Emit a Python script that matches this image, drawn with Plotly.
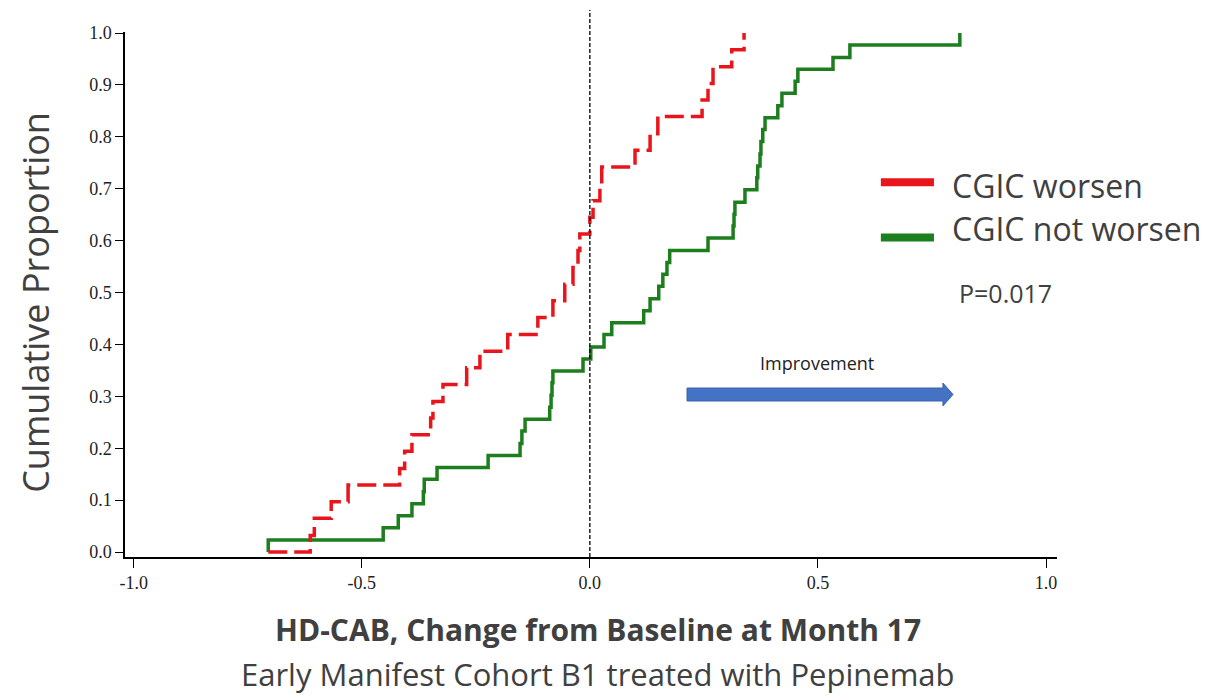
import plotly.graph_objects as go

# Cumulative distribution data (step functions)
worsen_x = [-0.705, -0.613, -0.604, -0.567, -0.530, -0.417, -0.406, -0.390,
            -0.349, -0.344, -0.322, -0.270, -0.241, -0.180, -0.114, -0.081,
            -0.055, -0.037, -0.026, -0.022, 0.000, 0.007, 0.022, 0.026,
            0.099, 0.132, 0.149, 0.246, 0.259, 0.270, 0.311, 0.338]
worsen_y = [0.0, 0.032, 0.065, 0.097, 0.129, 0.161, 0.194, 0.226,
            0.258, 0.290, 0.323, 0.355, 0.387, 0.419, 0.452, 0.484,
            0.516, 0.548, 0.581, 0.613, 0.645, 0.677, 0.710, 0.742,
            0.774, 0.806, 0.839, 0.871, 0.903, 0.935, 0.968, 1.0]

notworsen_x = [-0.705, -0.705, -0.453, -0.420, -0.390, -0.365, -0.363, -0.335,
               -0.223, -0.153, -0.149, -0.142, -0.088, -0.085, -0.083, -0.081,
               -0.015, 0.002, 0.031, 0.048, 0.118, 0.132, 0.151, 0.160,
               0.169, 0.175, 0.259, 0.314, 0.316, 0.318, 0.340, 0.366,
               0.368, 0.373, 0.375, 0.379, 0.384, 0.412, 0.421, 0.450,
               0.456, 0.533, 0.570, 0.811]
notworsen_y = [0.0, 0.023, 0.047, 0.070, 0.093, 0.116, 0.140, 0.163,
               0.186, 0.209, 0.233, 0.256, 0.279, 0.302, 0.326, 0.349,
               0.372, 0.395, 0.419, 0.442, 0.465, 0.488, 0.512, 0.535,
               0.558, 0.581, 0.605, 0.628, 0.651, 0.674, 0.698, 0.721,
               0.744, 0.767, 0.791, 0.814, 0.837, 0.860, 0.884, 0.907,
               0.930, 0.953, 0.977, 1.0]

x_ticks = [-1.0, -0.5, 0.0, 0.5, 1.0]
x_tick_labels = ["-1.0", "-0.5", "0.0", "0.5", "1.0"]
y_ticks = [0.0, 0.1, 0.2, 0.3, 0.4, 0.5, 0.6, 0.7, 0.8, 0.9, 1.0]
y_tick_labels = ["0.0", "0.1", "0.2", "0.3", "0.4", "0.5", "0.6", "0.7", "0.8", "0.9", "1.0"]

series_names = ["CGIC worsen", "CGIC not worsen"]
RED = "#E8161C"
GREEN = "#1C7E1C"
TXT = "#404040"
SANS = "Open Sans"

fig = go.Figure()
fig.add_trace(go.Scatter(x=notworsen_x, y=notworsen_y, mode="lines", line_shape="hv",
                         line=dict(color=GREEN, width=3.5), name=series_names[1],
                         showlegend=False))
fig.add_trace(go.Scatter(x=worsen_x, y=worsen_y, mode="lines", line_shape="hv",
                         line=dict(color=RED, width=3.5, dash="19px,7px"), name=series_names[0],
                         showlegend=False))

shapes = []
# dashed reference line at 0
shapes.append(dict(type="line", xref="x", yref="paper", x0=0, x1=0, y0=0, y1=1.042,
                   line=dict(color="black", width=1.3, dash="4px,2px")))
# legend swatches
shapes.append(dict(type="line", xref="paper", yref="paper", x0=0.811, x1=0.868,
                   y0=0.714, y1=0.714, line=dict(color=RED, width=8)))
shapes.append(dict(type="line", xref="paper", yref="paper", x0=0.811, x1=0.868,
                   y0=0.6086, y1=0.6086, line=dict(color=GREEN, width=8)))
# improvement arrow
ax0, ax1, axh, yc = 0.213, 0.796, 0.774, 0.3035
bh, hh = 0.0125, 0.022
path = (f"M {ax0},{yc-bh} L {axh},{yc-bh} L {axh},{yc-hh} L {ax1},{yc} "
        f"L {axh},{yc+hh} L {axh},{yc+bh} L {ax0},{yc+bh} Z")
shapes.append(dict(type="path", xref="x", yref="y", path=path,
                   fillcolor="#4472C4", line=dict(color="#3A62AA", width=1)))

annotations = [
    dict(text="Cumulative Proportion", xref="paper", yref="paper", x=-0.0955, y=0.486,
         textangle=-90, showarrow=False, xanchor="center", yanchor="middle",
         font=dict(family=SANS, size=36, color=TXT)),
    dict(text="<b>HD-CAB, Change from Baseline at Month 17</b>", xref="paper", yref="paper",
         x=0.5075, y=-0.139, showarrow=False, xanchor="center", yanchor="middle",
         font=dict(family=SANS, size=30, color=TXT)),
    dict(text="Early Manifest Cohort B1 treated with Pepinemab", xref="paper", yref="paper",
         x=0.5075, y=-0.2229, showarrow=False, xanchor="center", yanchor="middle",
         font=dict(family=SANS, size=31, color=TXT)),
    dict(text=series_names[0], xref="paper", yref="paper", x=0.885, y=0.7067,
         showarrow=False, xanchor="left", yanchor="middle",
         font=dict(family=SANS, size=32, color=TXT)),
    dict(text=series_names[1], xref="paper", yref="paper", x=0.885, y=0.6248,
         showarrow=False, xanchor="left", yanchor="middle",
         font=dict(family=SANS, size=32, color=TXT)),
    dict(text="P=0.017", xref="paper", yref="paper", x=0.945, y=0.503,
         showarrow=False, xanchor="center", yanchor="middle",
         font=dict(family=SANS, size=25, color=TXT)),
    dict(text="Improvement", xref="x", yref="y", x=0.498, y=0.364,
         showarrow=False, xanchor="center", yanchor="middle",
         font=dict(family=SANS, size=18, color="#222222")),
]

fig.update_layout(
    width=1227, height=695,
    margin=dict(l=125, r=170, t=32, b=138),
    plot_bgcolor="white", paper_bgcolor="white",
    shapes=shapes, annotations=annotations,
    xaxis=dict(range=[-1.019, 1.024], tickvals=x_ticks, ticktext=x_tick_labels,
               showgrid=False, zeroline=False, showline=True, linecolor="black",
               linewidth=1.5, ticks="outside", ticklen=9, tickwidth=1.3, tickcolor="black",
               tickfont=dict(family="Liberation Serif", size=18, color="#222222")),
    yaxis=dict(range=[-0.0096, 1.002], tickvals=y_ticks, ticktext=y_tick_labels,
               showgrid=False, zeroline=False, showline=True, linecolor="black",
               linewidth=1.5, ticks="outside", ticklen=8, tickwidth=1.3, tickcolor="black",
               tickfont=dict(family="Liberation Serif", size=18, color="#222222")),
)

fig.write_html("out.html")
